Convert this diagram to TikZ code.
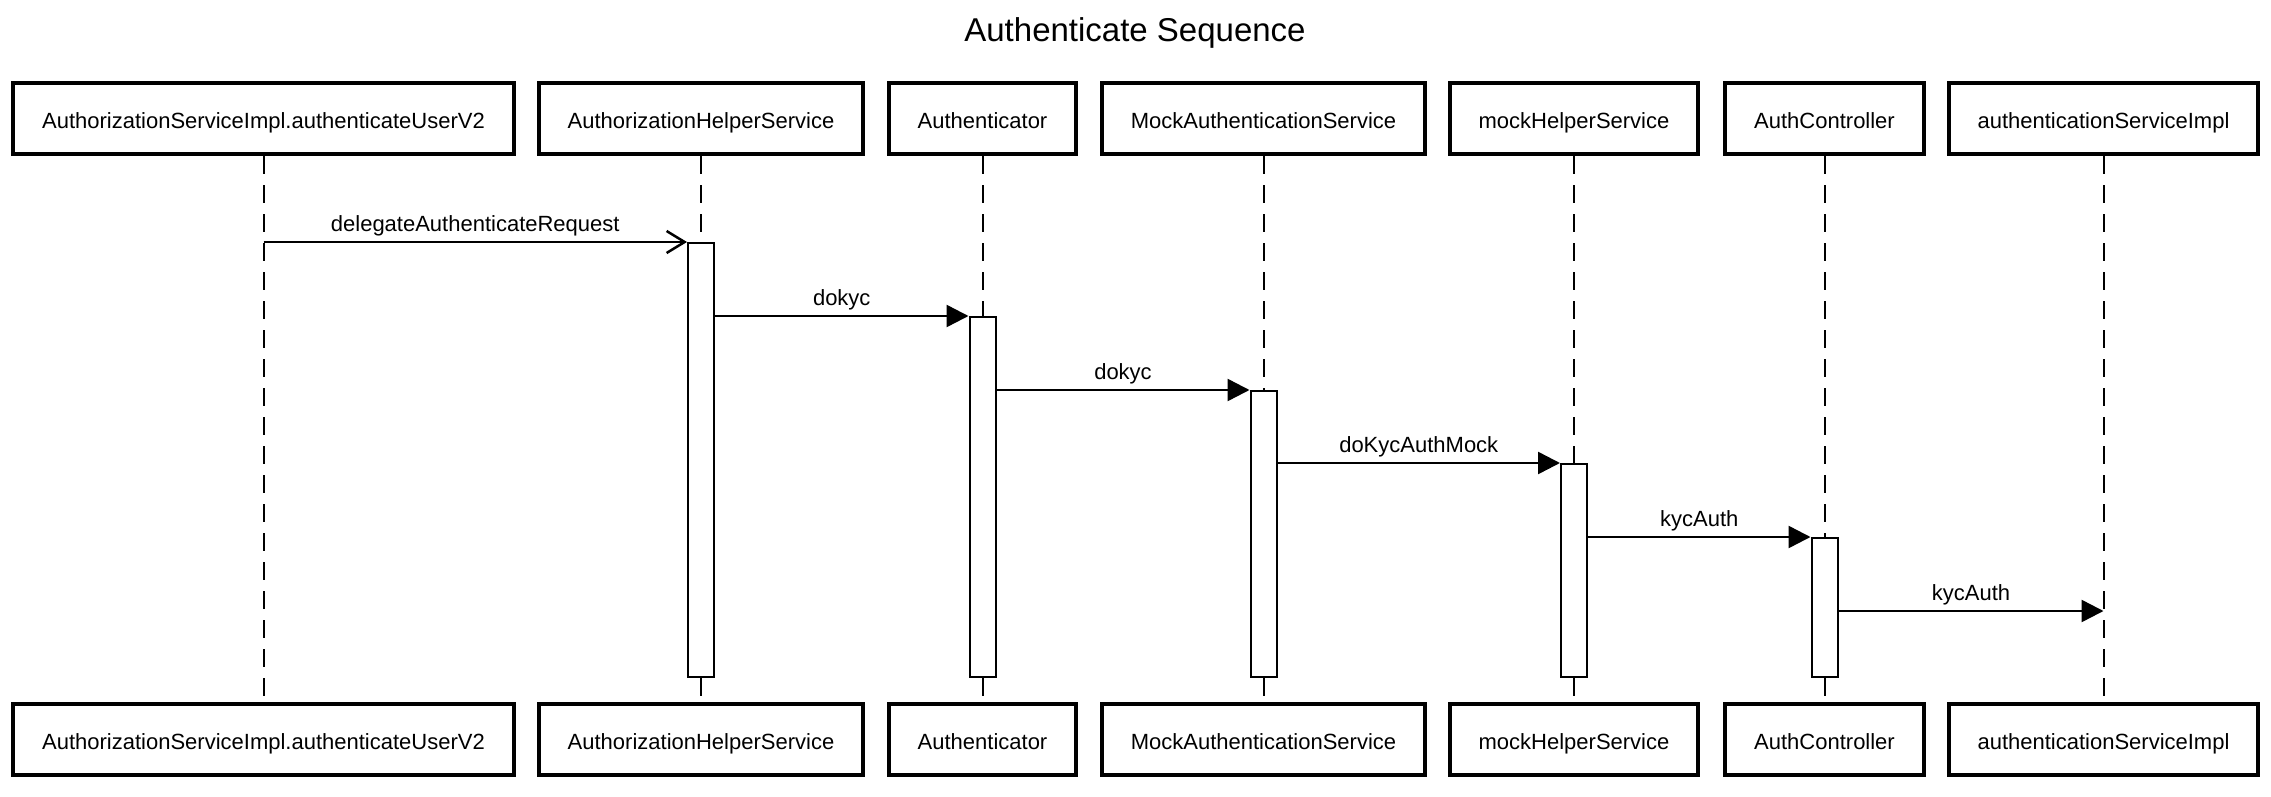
\documentclass[tikz,border=0pt]{standalone}
\usepackage{fontspec}
\setmainfont{Liberation Sans}
\usetikzlibrary{arrows,arrows.meta,positioning}
\tikzset{font=\fontsize{22}{26}\selectfont}
\tikzstyle{part}=[draw,line width=4pt,inner xsep=29pt,minimum height=71pt,text height=22pt,text depth=2pt,fill=white]
\tikzstyle{act}=[draw,line width=2pt,fill=white,minimum width=26pt,anchor=north,inner sep=0pt]
\tikzstyle{life}=[line width=2pt,dash pattern=on 18pt off 11pt]
\tikzstyle{call}=[line width=2.5pt,-{Triangle[length=22pt,width=22pt]}]
\tikzstyle{async}=[line width=2.5pt,-{Straight Barb[length=18pt,width=22pt,line width=2.5pt]}]

\begin{document}
\begin{tikzpicture}[x=1pt,y=-1pt]
\useasboundingbox (0,0) rectangle (2271,797);
\node[font=\fontsize{33}{38}\selectfont] (title) at (1135,32.5) {Authenticate Sequence};
% participants, top row
\node[part] (userV2) at (263.5,118.5) {AuthorizationServiceImpl.authenticateUserV2};
\node[part] (helper) at (701,118.5) {AuthorizationHelperService};
\node[part] (authr) at (982.5,118.5) {Authenticator};
\node[part] (mockAuth) at (1263.5,118.5) {MockAuthenticationService};
\node[part] (mockHelp) at (1574,118.5) {mockHelperService};
\node[part] (ctrl) at (1824.5,118.5) {AuthController};
\node[part] (authImpl) at (2103.5,118.5) {authenticationServiceImpl};
% participants, bottom row
\node[part] (userV2b) at (263.5,739.5) {AuthorizationServiceImpl.authenticateUserV2};
\node[part] (helperb) at (701,739.5) {AuthorizationHelperService};
\node[part] (authrb) at (982.5,739.5) {Authenticator};
\node[part] (mockAuthb) at (1263.5,739.5) {MockAuthenticationService};
\node[part] (mockHelpb) at (1574,739.5) {mockHelperService};
\node[part] (ctrlb) at (1824.5,739.5) {AuthController};
\node[part] (authImplb) at (2103.5,739.5) {authenticationServiceImpl};
% lifelines
\draw[life] (userV2) -- (userV2b);
\draw[life] (helper) -- (helperb);
\draw[life] (authr) -- (authrb);
\draw[life] (mockAuth) -- (mockAuthb);
\draw[life] (mockHelp) -- (mockHelpb);
\draw[life] (ctrl) -- (ctrlb);
\draw[life] (authImpl) -- (authImplb);
% activations
\node[act,minimum height=434pt] (helperAct) at (701,242) {};
\node[act,minimum height=360pt] (authrAct) at (982.5,316) {};
\node[act,minimum height=286pt] (mockAuthAct) at (1263.5,390) {};
\node[act,minimum height=213pt] (mockHelpAct) at (1574,463) {};
\node[act,minimum height=139pt] (ctrlAct) at (1824.5,537) {};
\coordinate (callStart) at (263.5,242);
\coordinate (callEnd) at (2103.5,611);
% messages
\draw[async] (callStart) -- node[above=1pt] {delegateAuthenticateRequest} (helperAct.north west);
\draw[call] (helperAct.east |- authrAct.north) -- node[above=1pt] {dokyc} (authrAct.north west);
\draw[call] (authrAct.east |- mockAuthAct.north) -- node[above=1pt] {dokyc} (mockAuthAct.north west);
\draw[call] (mockAuthAct.east |- mockHelpAct.north) -- node[above=1pt] {doKycAuthMock} (mockHelpAct.north west);
\draw[call] (mockHelpAct.east |- ctrlAct.north) -- node[above=1pt] {kycAuth} (ctrlAct.north west);
\draw[call] (ctrlAct.east |- callEnd) -- node[above=1pt] {kycAuth} (callEnd);
\end{tikzpicture}
\end{document}
